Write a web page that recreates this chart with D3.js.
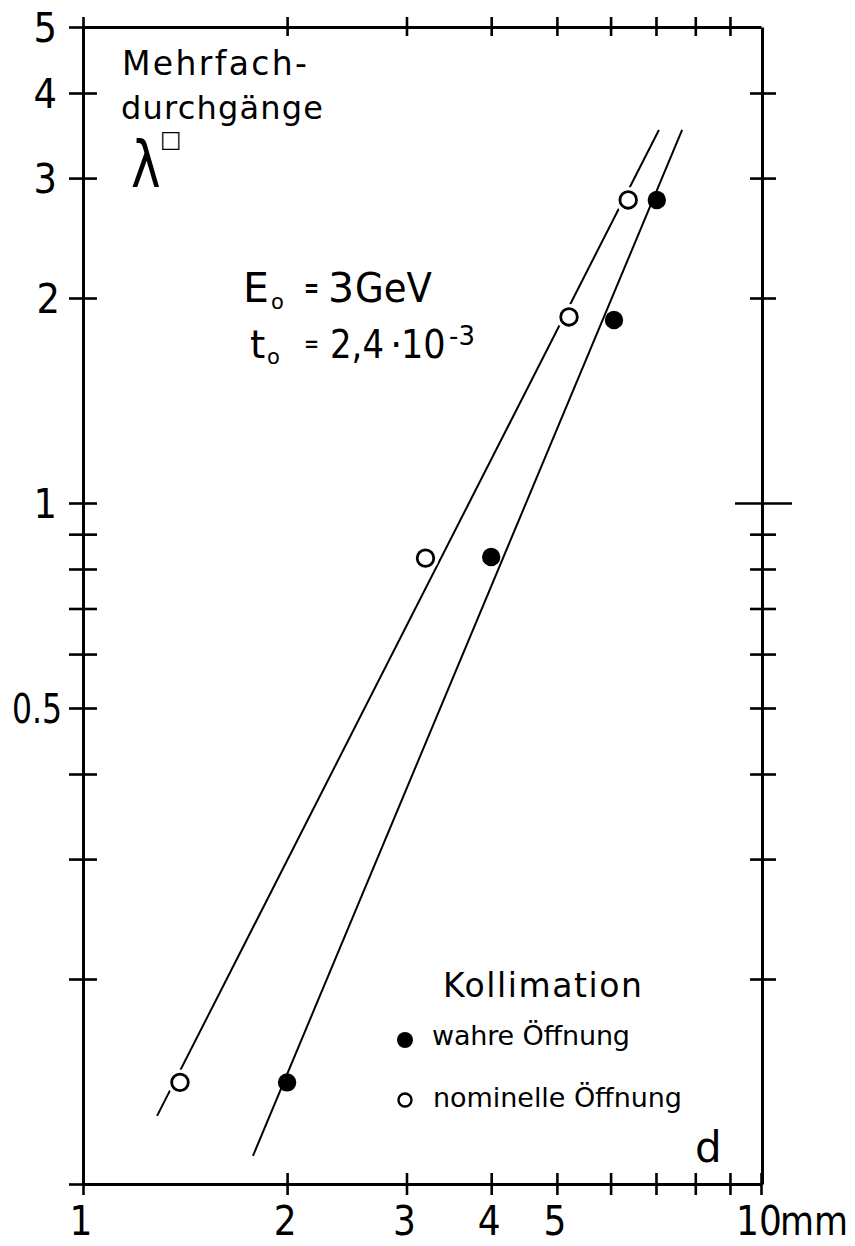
<!DOCTYPE html>
<html><head><meta charset="utf-8">
<script src="https://cdn.jsdelivr.net/npm/d3@7"></script>
<style>
body{margin:0;background:#fff}
svg{display:block}
text{font-family:"DejaVu Sans",sans-serif;fill:#000}
.num{font-family:"Liberation Sans Narrow","DejaVu Sans Condensed",sans-serif}
</style>
</head><body>
<svg id="c" width="855" height="1246"></svg>
<script>
// ---- data ----
const xTickValues = [1,2,3,4,5,6,7,8,9,10];
const xLabelValues = [1,2,3,4,5,10];
const yTickValues = [5,4,3,2,1,0.9,0.8,0.7,0.6,0.5,0.4,0.3,0.2,0.1];
const yLabelValues = [5,4,3,2,1,0.5];
// nominelle Öffnung (open circles)
const openD = [1.39,3.2,5.21,6.37];
const openLambda = [0.141,0.83,1.876,2.786];
// wahre Öffnung (filled circles)
const fullD = [2.0,4.0,6.07,7.02];
const fullLambda = [0.141,0.833,1.857,2.786];
// fitted lines (end points)
const openFitD = [1.286,7.07];
const openFitLambda = [0.1259,3.53];
const fullFitD = [1.781,7.65];
const fullFitLambda = [0.110,3.53];

const svg = d3.select("#c");
const x = d3.scaleLog().domain([1,10]).range([83,761]);
const y = d3.scaleLog().domain([0.1,5]).range([1184,27]);

function cross(g, attr, a, b){ g.selectAll(".tick line").attr(attr+"1",a).attr(attr+"2",b); }

// left axis
const gl = svg.append("g").attr("transform","translate(83,0)")
  .call(d3.axisLeft(y).tickValues(yTickValues).tickSizeOuter(0).tickFormat(""));
cross(gl,"x",-14,14);
// right axis
const rightTicks = yTickValues.filter(v=>v!==5 && v!==0.1);
const gr = svg.append("g").attr("transform","translate(762,0)")
  .call(d3.axisRight(y).tickValues(rightTicks).tickSizeOuter(0).tickFormat(""));
gr.selectAll(".tick line").attr("x1",d=>d===1?-27:-12).attr("x2",d=>d===1?30:14);
// top axis
const gt = svg.append("g").attr("transform","translate(0,27)")
  .call(d3.axisTop(x).tickValues(xTickValues.filter(v=>v!==10)).tickSizeOuter(0).tickFormat(""));
cross(gt,"y",-10,9);
// bottom axis
const gb = svg.append("g").attr("transform","translate(0,1184)")
  .call(d3.axisBottom(x).tickValues(xTickValues).tickSizeOuter(0).tickFormat(""));
cross(gb,"y",-11,11);

svg.selectAll(".domain").attr("stroke","#000").attr("stroke-width",3);
svg.selectAll(".tick line").attr("stroke","#000").attr("stroke-width",2.6);

// tick labels
svg.append("g").selectAll("text").data(yLabelValues).join("text")
  .attr("class","num").attr("x",d=>d===0.5?62:(d===2?60:57)).attr("y",d=>y(d)+15)
  .attr("text-anchor","end").attr("font-size",41)
  .each(function(d){ if(d===0.5) d3.select(this).attr("textLength",50).attr("lengthAdjust","spacingAndGlyphs"); })
  .text(d=>String(d));
const xl = svg.append("g").selectAll("text").data(xLabelValues).join("text")
  .attr("class","num").attr("y",1235).attr("font-size",40)
  .attr("x",d=>d===10?736:x(d)-2).attr("text-anchor",d=>d===10?"start":"middle");
xl.append("tspan").text(d=>String(d));
xl.filter(d=>d===10).append("tspan").attr("x",780)
  .attr("textLength",68).attr("lengthAdjust","spacingAndGlyphs").text("mm");

// fit lines
const line = d3.line().x(d=>x(d[0])).y(d=>y(d[1]));
const plot = svg.append("g");
plot.append("path").datum(d3.zip(openFitD,openFitLambda)).attr("d",line)
  .attr("fill","none").attr("stroke","#000").attr("stroke-width",2);
plot.append("path").datum(d3.zip(fullFitD,fullFitLambda)).attr("d",line)
  .attr("fill","none").attr("stroke","#000").attr("stroke-width",2);

// halos (gaps in lines around open circles)
plot.selectAll("circle.halo").data(d3.zip(openD,openLambda)).join("circle")
  .attr("class","halo").attr("cx",d=>x(d[0])).attr("cy",d=>y(d[1])).attr("r",13).attr("fill","#fff");
plot.selectAll("circle.open").data(d3.zip(openD,openLambda)).join("circle")
  .attr("class","open").attr("cx",d=>x(d[0])).attr("cy",d=>y(d[1])).attr("r",8.3)
  .attr("fill","#fff").attr("stroke","#000").attr("stroke-width",2.8);
plot.selectAll("circle.full").data(d3.zip(fullD,fullLambda)).join("circle")
  .attr("class","full").attr("cx",d=>x(d[0])).attr("cy",d=>y(d[1])).attr("r",9.2)
  .attr("fill","#000");

// y-axis title
svg.append("text").attr("x",122).attr("y",75).attr("font-size",33)
  .attr("textLength",185).attr("lengthAdjust","spacing").text("Mehrfach-");
svg.append("text").attr("x",121).attr("y",119).attr("font-size",32)
  .attr("textLength",202).attr("lengthAdjust","spacing").text("durchgänge");
svg.append("text").attr("transform","translate(131,187) scale(0.78,1)").attr("font-size",64).text("λ");
svg.append("text").attr("x",160).attr("y",147).attr("font-size",23).attr("font-weight","bold").text("□");

// parameters
const e0 = svg.append("text").attr("font-size",41);
e0.append("tspan").attr("x",243).attr("y",302).text("E");
e0.append("tspan").attr("x",271).attr("y",309).attr("font-size",21).text("o");
e0.append("tspan").attr("x",304).attr("y",297).attr("font-size",26).attr("font-weight","bold")
  .attr("textLength",15).attr("lengthAdjust","spacingAndGlyphs").text("=");
e0.append("tspan").attr("x",328).attr("y",302).text("3");
e0.append("tspan").attr("x",355).attr("y",302).attr("textLength",77).attr("lengthAdjust","spacingAndGlyphs").text("GeV");

const t0 = svg.append("text").attr("font-size",39);
t0.append("tspan").attr("x",250).attr("y",358).text("t");
t0.append("tspan").attr("x",267).attr("y",364).attr("font-size",21).text("o");
t0.append("tspan").attr("x",304).attr("y",353).attr("font-size",26)
  .attr("textLength",15).attr("lengthAdjust","spacingAndGlyphs").text("=");
t0.append("tspan").attr("x",330).attr("y",358).attr("textLength",54).attr("lengthAdjust","spacingAndGlyphs").text("2,4");
t0.append("tspan").attr("x",390).attr("y",358).text("·");
t0.append("tspan").attr("x",401).attr("y",358).attr("class","num").text("10");
t0.append("tspan").attr("x",449).attr("y",345).attr("font-size",26).text("-3");

// legend
svg.append("text").attr("x",443).attr("y",997).attr("font-size",33)
  .attr("textLength",199).attr("lengthAdjust","spacing").text("Kollimation");
svg.append("circle").attr("cx",405).attr("cy",1040).attr("r",8).attr("fill","#000");
svg.append("text").attr("x",432).attr("y",1045).attr("font-size",27)
  .attr("textLength",198).attr("lengthAdjust","spacing").text("wahre Öffnung");
svg.append("circle").attr("cx",405).attr("cy",1100).attr("r",6.5).attr("fill","#fff").attr("stroke","#000").attr("stroke-width",2.4);
svg.append("text").attr("x",433).attr("y",1107).attr("font-size",27)
  .attr("textLength",249).attr("lengthAdjust","spacing").text("nominelle Öffnung");

// axis name
svg.append("text").attr("x",695).attr("y",1162).attr("font-size",42).text("d");
</script>
</body></html>
